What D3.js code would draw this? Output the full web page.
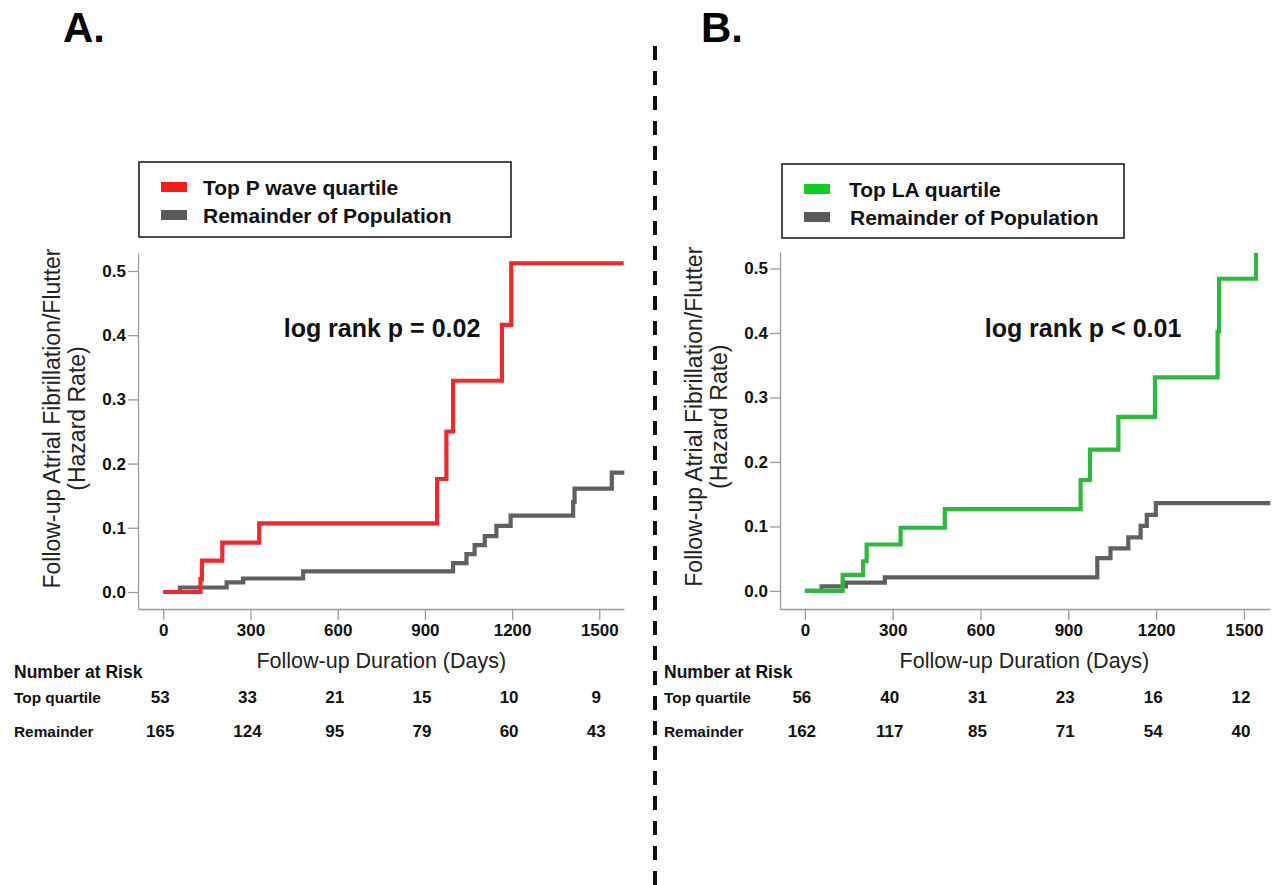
<!DOCTYPE html>
<html>
<head>
<meta charset="utf-8">
<style>
  body { margin: 0; background: #fff; }
  svg { display: block; font-family: "Liberation Sans", Arial, sans-serif; }
</style>
</head>
<body>
<div id="chart"></div>
<script src="https://cdn.jsdelivr.net/npm/d3@7"></script>
<script>
  // tick values shared by both panels
  const dayTicks = [0, 300, 600, 900, 1200, 1500];
  const rateTicks = [0, 0.1, 0.2, 0.3, 0.4, 0.5];

  // panel A: top P wave quartile vs remainder
  const pwaveDays = [0, 128, 133, 203, 330, 942, 974, 997, 1165, 1197, 1584];
  const pwaveRate = [0, 0.02, 0.049, 0.077, 0.107, 0.176, 0.25, 0.329, 0.416, 0.512, 0.512];
  const restADays = [0, 57, 218, 275, 481, 997, 1043, 1071, 1106, 1146, 1195, 1410, 1415, 1543, 1586];
  const restARate = [0, 0.007, 0.015, 0.021, 0.032, 0.045, 0.059, 0.073, 0.087, 0.103, 0.119, 0.14, 0.161, 0.186, 0.186];
  const riskTopA = [53, 33, 21, 15, 10, 9];
  const riskRestA = [165, 124, 95, 79, 60, 43];

  // panel B: top LA quartile vs remainder
  const laDays = [0, 129, 199, 211, 327, 478, 942, 974, 1071, 1196, 1410, 1415, 1541];
  const laRate = [0, 0.025, 0.046, 0.072, 0.098, 0.127, 0.172, 0.219, 0.27, 0.331, 0.402, 0.484, 0.524];
  const restBDays = [0, 57, 140, 273, 999, 1044, 1105, 1147, 1168, 1199, 1590];
  const restBRate = [0, 0.007, 0.013, 0.021, 0.051, 0.066, 0.083, 0.101, 0.118, 0.136, 0.136];
  const riskTopB = [56, 40, 31, 23, 16, 12];
  const riskRestB = [162, 117, 85, 71, 54, 40];

  const width = 1272, height = 885;
  const grayLine = "#606060";

  const svg = d3.create("svg")
    .attr("width", width)
    .attr("height", height)
    .attr("viewBox", [0, 0, width, height]);
  document.getElementById("chart").appendChild(svg.node());

  const panels = [
    {
      letter: "A.", letterX: 63,
      left: 138, right: 624, top: 253, bottom: 609,
      xDomain: [-87, 1585], yDomain: [-0.0265, 0.528],
      top_: { name: "Top P wave quartile", days: pwaveDays, rate: pwaveRate, line: "#ec2a2e", swatch: "#f21d1d" },
      rest: { days: restADays, rate: restARate },
      legend: { x: 139, y: 162, w: 372, h: 75, textX: 203 },
      pText: "log rank p = 0.02", pX: 382,
      riskTop: riskTopA, riskRest: riskRestA, tableX: 14
    },
    {
      letter: "B.", letterX: 701,
      left: 780, right: 1270, top: 252, bottom: 609,
      xDomain: [-85, 1589], yDomain: [-0.028, 0.5255],
      top_: { name: "Top LA quartile", days: laDays, rate: laRate, line: "#2fb83f", swatch: "#12cc22" },
      rest: { days: restBDays, rate: restBRate },
      legend: { x: 782, y: 164, w: 342, h: 74, textX: 849 },
      pText: "log rank p < 0.01", pX: 1083,
      riskTop: riskTopB, riskRest: riskRestB, tableX: 664
    }
  ];

  // dashed divider
  svg.append("line")
    .attr("x1", 655).attr("x2", 655)
    .attr("y1", 46).attr("y2", height)
    .attr("stroke", "#111")
    .attr("stroke-width", 4)
    .attr("stroke-dasharray", "14 11");

  panels.forEach(p => {
    const g = svg.append("g");

    const x = d3.scaleLinear().domain(p.xDomain).range([p.left, p.right]);
    const y = d3.scaleLinear().domain(p.yDomain).range([p.bottom, p.top]);

    // panel letter
    g.append("text")
      .attr("x", p.letterX).attr("y", 42)
      .attr("font-size", 42).attr("font-weight", "bold")
      .text(p.letter);

    // axes
    const yAxis = g.append("g")
      .attr("transform", `translate(${p.left},0)`)
      .call(d3.axisLeft(y).tickValues(rateTicks).tickFormat(d3.format(".1f")).tickSize(10).tickSizeOuter(0).tickPadding(2));
    const xAxis = g.append("g")
      .attr("transform", `translate(0,${p.bottom})`)
      .call(d3.axisBottom(x).tickValues(dayTicks).tickFormat(d3.format("d")).tickSize(11).tickSizeOuter(0).tickPadding(4));
    [yAxis, xAxis].forEach(a => {
      a.selectAll("path, line").attr("stroke", "#9a9a9a").attr("stroke-width", 1.3);
      a.selectAll("text")
        .attr("font-family", "Liberation Sans, Arial, sans-serif")
        .attr("font-size", 17).attr("font-weight", "bold").attr("fill", "#111");
    });

    // y axis title (two lines)
    const yMid = (y(0) + y(0.5)) / 2 - 13;
    g.append("text")
      .attr("transform", `translate(${p.left - 78},${yMid}) rotate(-90)`)
      .attr("text-anchor", "middle")
      .attr("font-size", 23).attr("fill", "#222")
      .text("Follow-up Atrial Fibrillation/Flutter");
    g.append("text")
      .attr("transform", `translate(${p.left - 53},${yMid}) rotate(-90)`)
      .attr("text-anchor", "middle")
      .attr("font-size", 23).attr("fill", "#222")
      .text("(Hazard Rate)");

    // x axis title
    g.append("text")
      .attr("x", (x(0) + x(1500)) / 2).attr("y", 668)
      .attr("text-anchor", "middle")
      .attr("font-size", 21.5).attr("fill", "#222")
      .text("Follow-up Duration (Days)");

    // step curves
    const step = d3.line()
      .x(d => x(d[0]))
      .y(d => y(d[1]))
      .curve(d3.curveStepAfter);

    g.append("path")
      .datum(d3.zip(p.rest.days, p.rest.rate))
      .attr("d", step)
      .attr("fill", "none")
      .attr("stroke", grayLine)
      .attr("stroke-width", 4.2);

    g.append("path")
      .datum(d3.zip(p.top_.days, p.top_.rate))
      .attr("d", step)
      .attr("fill", "none")
      .attr("stroke", p.top_.line)
      .attr("stroke-width", 4.2);

    // log rank annotation
    g.append("text")
      .attr("x", p.pX).attr("y", 337)
      .attr("text-anchor", "middle")
      .attr("font-size", 25).attr("font-weight", "bold").attr("fill", "#111")
      .text(p.pText);

    // legend box
    const L = p.legend;
    g.append("rect")
      .attr("x", L.x).attr("y", L.y)
      .attr("width", L.w).attr("height", L.h)
      .attr("fill", "#fff")
      .attr("stroke", "#111").attr("stroke-width", 1.5);
    const items = [
      { label: p.top_.name, color: p.top_.swatch },
      { label: "Remainder of Population", color: "#5a5a5a" }
    ];
    items.forEach((it, i) => {
      g.append("rect")
        .attr("x", L.x + 22).attr("y", L.y + 20 + i * 28)
        .attr("width", 26).attr("height", 10)
        .attr("fill", it.color);
      g.append("text")
        .attr("x", L.textX + (i === 1 && p.letter === "B." ? 1 : 0))
        .attr("y", L.y + 33 + i * 28)
        .attr("font-size", 21).attr("font-weight", "bold").attr("fill", "#111")
        .text(it.label);
    });

    // number at risk table
    g.append("text")
      .attr("x", p.tableX).attr("y", 678)
      .attr("font-size", 17.5).attr("font-weight", "bold").attr("fill", "#111")
      .text("Number at Risk");
    [["Top quartile", p.riskTop, 703], ["Remainder", p.riskRest, 737]].forEach(([label, vals, yy]) => {
      g.append("text")
        .attr("x", p.tableX).attr("y", yy)
        .attr("font-size", 15.4).attr("font-weight", "bold").attr("fill", "#111")
        .text(label);
      g.selectAll(null)
        .data(vals)
        .join("text")
          .attr("x", (d, i) => x(dayTicks[i]) - 3)
          .attr("y", yy)
          .attr("text-anchor", "middle")
          .attr("font-size", 17).attr("font-weight", "bold").attr("fill", "#111")
          .text(d => d);
    });
  });
</script>
</body>
</html>
